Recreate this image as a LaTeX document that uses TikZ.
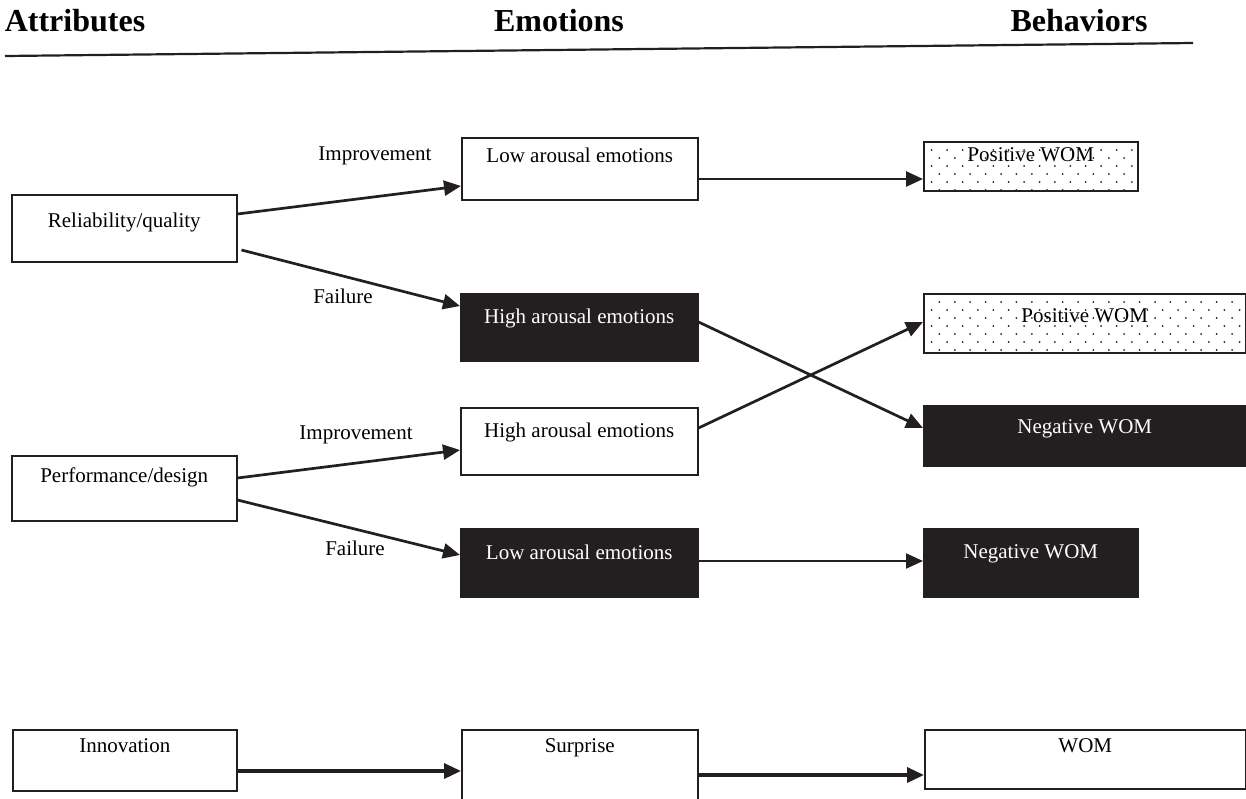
\documentclass[tikz,border=0pt]{standalone}
\usepackage{fontspec}
\setmainfont{Liberation Serif}
\usetikzlibrary{calc,arrows.meta,patterns.meta}
\definecolor{boxblack}{HTML}{231F20}

\tikzdeclarepattern{
  name=womdots,
  type=uncolored,
  bottom left={(-0.6pt,-0.6pt)},
  top right={(7.1pt,7.4pt)},
  tile size={(7.7pt,8pt)},
  code={\fill (0pt,0pt) circle (0.5pt); \fill (3.85pt,4pt) circle (0.5pt);}
}

\tikzset{
  box/.style={draw=boxblack, line width=0.75pt, inner sep=0pt, anchor=north west, font=\fontsize{10.5}{12}\selectfont},
  darkbox/.style={box, fill=boxblack, text=white},
  dotbox/.style={box, pattern=womdots, pattern color=boxblack},
  arr/.style={line width=1.35pt, draw=boxblack, -{Triangle[length=8.5pt,width=7.5pt]}},
  lbl/.style={font=\fontsize{10.5}{12}\selectfont},
  head/.style={anchor=base, font=\fontsize{16}{18}\selectfont\bfseries}
}

\begin{document}
\begin{tikzpicture}[x=0.5pt, y=-0.5pt]
\useasboundingbox (0,0) rectangle (1246,798);

% Headings and rule
\node[head] (hattr) at (75,31) {Attributes};
\node[head] (hemo) at (559,31) {Emotions};
\node[head] (hbeh) at (1079,31) {Behaviors};
\draw[line width=1.1pt, boxblack] (5,56) -- (1193,43);

% Attribute boxes
\node[box, minimum width=112.5pt, text height=16.5pt, text depth=17pt] (rel) at (11,194) {Reliability/quality};
\node[box, minimum width=112.5pt, text height=13.5pt, text depth=19pt] (perf) at (11,455) {Performance/design};
\node[box, minimum width=112pt, text height=11.5pt, text depth=19pt] (innov) at (12,729) {Innovation};

% Emotion boxes
\node[box, minimum width=118pt, text height=12.5pt, text depth=18.5pt] (lowA) at (461,137) {Low arousal emotions};
\node[darkbox, minimum width=118.5pt, text height=15pt, text depth=18.5pt] (highA) at (460,293) {High arousal emotions};
\node[box, minimum width=118.5pt, text height=15pt, text depth=18.5pt] (highB) at (460,407) {High arousal emotions};
\node[darkbox, minimum width=118.5pt, text height=15.5pt, text depth=18.5pt] (lowB) at (460,528) {Low arousal emotions};
\node[box, minimum width=118pt, text height=11.5pt, text depth=30pt] (surp) at (461,729) {Surprise};

% Behavior boxes
\node[dotbox, minimum width=107pt, text height=10pt, text depth=14.5pt] (pos1) at (923,141) {Positive WOM};
\node[dotbox, minimum width=161pt, text height=14.5pt, text depth=15pt] (pos2) at (923,293) {Positive WOM};
\node[darkbox, minimum width=161pt, text height=14pt, text depth=16pt] (neg1) at (923,405) {Negative WOM};
\node[darkbox, minimum width=107pt, text height=15pt, text depth=19pt] (neg2) at (923,528) {Negative WOM};
\node[box, minimum width=160.5pt, text height=11.5pt, text depth=18pt] (wom) at (924,729) {WOM};

% Connectors
\draw[arr] ($(rel.north east)+(0,20)$) -- ($(lowA.north west)+(0,49)$);
\draw[arr] ($(rel.north east)+(4,56)$) -- ($(highA.north west)+(0,13)$);
\draw[arr] ($(lowA.north east)+(0,42)$) -- ($(pos1.north west)+(0,38)$);
\draw[arr] ($(highA.north east)+(0,29)$) -- ($(neg1.north west)+(0,23)$);
\draw[arr] ($(highB.north east)+(0,21)$) -- ($(pos2.north west)+(0,29)$);
\draw[arr] ($(perf.north east)+(0,23)$) -- ($(highB.north west)+(0,43)$);
\draw[arr] ($(perf.north east)+(0,45)$) -- ($(lowB.north west)+(0,27)$);
\draw[arr, line width=1.1pt] ($(lowB.north east)+(0,33)$) -- ($(neg2.north west)+(0,33)$);
\draw[arr, line width=1.7pt] ($(innov.north east)+(0,42)$) -- ($(surp.north west)+(0,42)$);
\draw[arr, line width=1.7pt] ($(surp.north east)+(0,46)$) -- ($(wom.north west)+(0,46)$);

% Path labels
\node[lbl] (imp1) at (375,156) {Improvement};
\node[lbl] (fail1) at (343,296) {Failure};
\node[lbl] (imp2) at (356,435) {Improvement};
\node[lbl] (fail2) at (355,548) {Failure};
\end{tikzpicture}
\end{document}
